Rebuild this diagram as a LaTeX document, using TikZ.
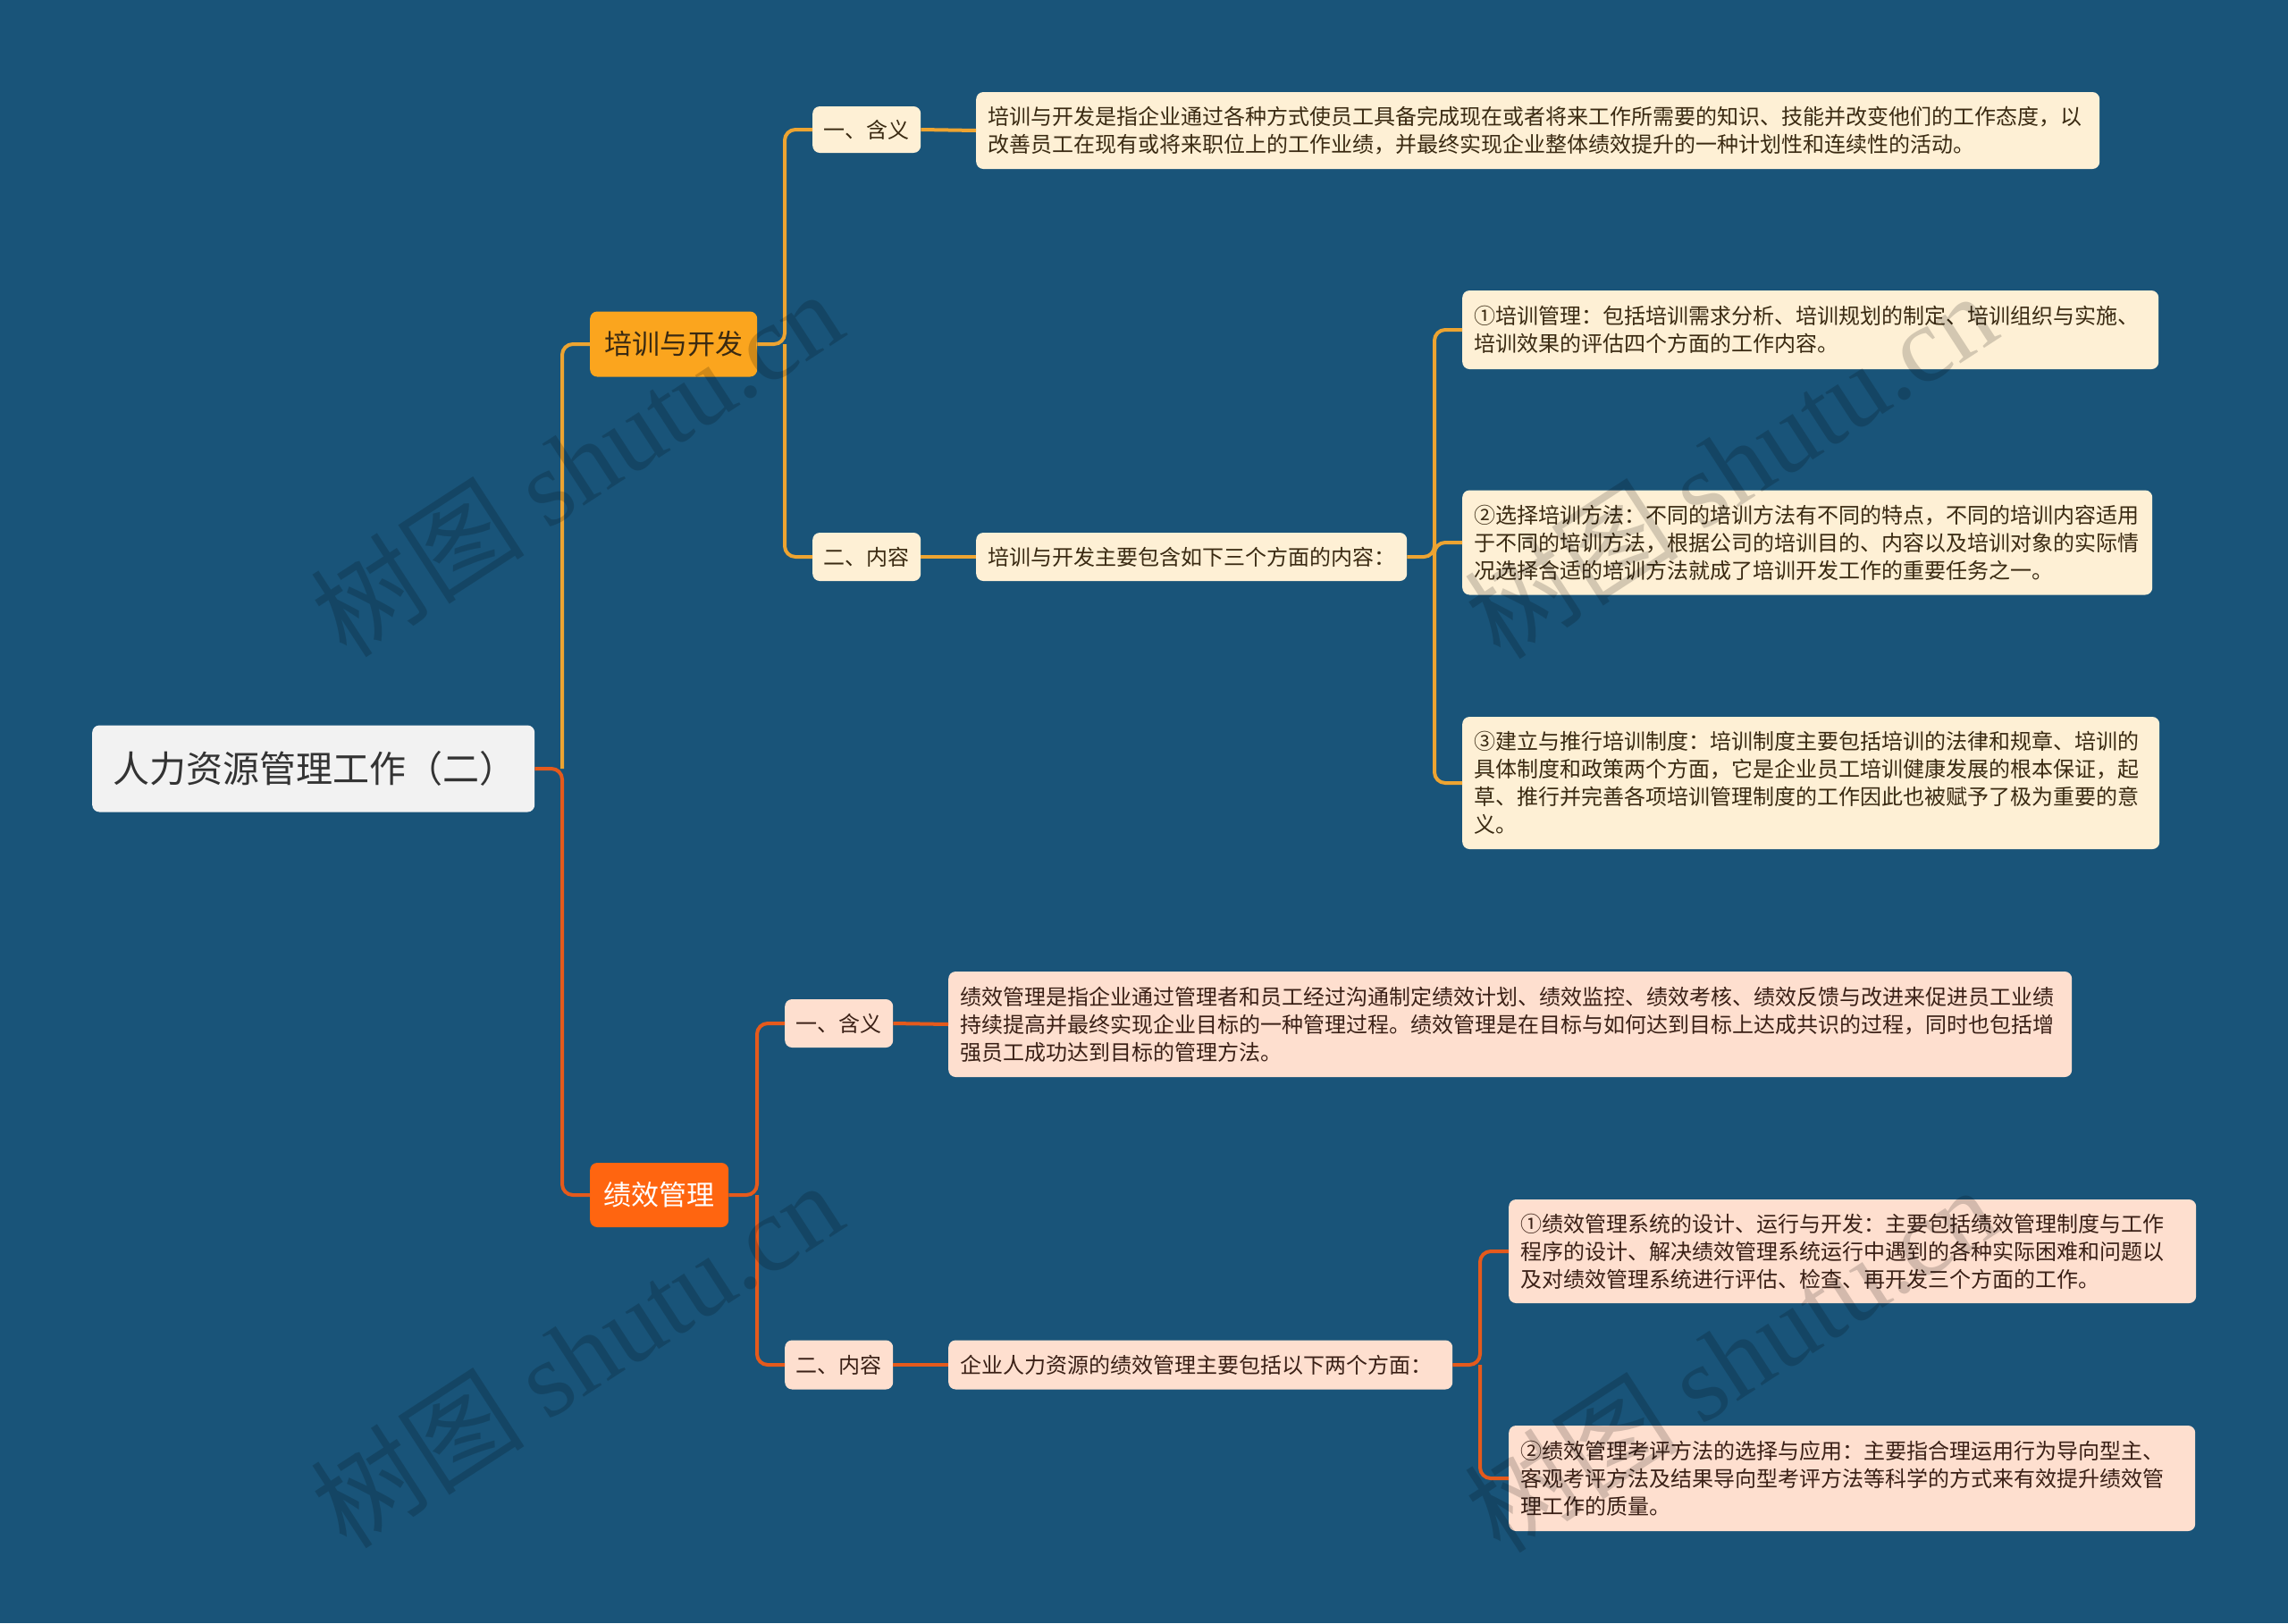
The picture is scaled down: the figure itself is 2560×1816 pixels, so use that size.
\documentclass[tikz,border=0pt]{standalone}
\usepackage{fontspec}
\newfontfamily\cjk{Noto Sans CJK SC}
\newfontfamily\wmserif{Liberation Serif}
\definecolor{bgc}{HTML}{195479}
\definecolor{goldl}{HTML}{EDA431}
\definecolor{redl}{HTML}{E55A1C}
\definecolor{bonef}{HTML}{FBA51E}
\definecolor{btwof}{HTML}{FF6510}
\definecolor{creamf}{HTML}{FEF0D5}
\definecolor{peachf}{HTML}{FEDFCF}
\definecolor{rootf}{HTML}{F2F2F2}
\definecolor{txtd}{HTML}{3A2A12}
\definecolor{txtr}{HTML}{3A2016}
\tikzset{
  box/.style={rounded corners=8pt, anchor=west, inner ysep=0pt, inner xsep=13pt, align=left},
  rootbox/.style={box, fill=rootf, text=black!80, font=\cjk\fontsize{41}{48}\selectfont, text width=473pt, minimum height=97pt, inner xsep=11pt, align=left},
  bonebox/.style={box, fill=bonef, text=txtd, font=\cjk\fontsize{31}{38}\selectfont, minimum height=73pt, inner xsep=0pt, align=center},
  btwobox/.style={box, fill=btwof, text=white, font=\cjk\fontsize{31}{38}\selectfont, minimum height=72pt, inner xsep=0pt, align=center},
  cbox/.style={box, fill=creamf, text=txtd, font=\cjk\fontsize{24}{31}\selectfont},
  pbox/.style={box, fill=peachf, text=txtr, font=\cjk\fontsize{24}{31}\selectfont},
  gl/.style={draw=goldl, line width=4pt, rounded corners=12pt},
  rl/.style={draw=redl, line width=4pt, rounded corners=12pt},
  wm/.style={text=black, opacity=0.17, rotate=33, font=\fontsize{120}{130}\selectfont}
}
\begin{document}
\begin{tikzpicture}[x=1pt,y=-1pt]
\useasboundingbox (0,0) rectangle (2560,1816);
\fill[bgc] (0,0) rectangle (2560,1816);

% spines
\coordinate (sp0) at (629,860);
\coordinate (sp1) at (878,385);
\coordinate (sp2) at (1605,623);
\coordinate (sp3) at (847,1337);
\coordinate (sp4) at (1656,1527);

% nodes
\node[rootbox] (root) at (103,860) {\hspace*{12pt}人力资源管理工作（二）};
\node[bonebox, minimum width=187pt] (b1) at (660,385) {培训与开发};
\node[btwobox, minimum width=155pt] (b2) at (660,1337) {绩效管理};

\node[cbox, minimum width=121pt, minimum height=52pt, inner xsep=0pt, align=center] (k1) at (909,145) {一、含义};
\node[cbox, minimum width=121pt, minimum height=54pt, inner xsep=0pt, align=center] (k2) at (909,623) {二、内容};
\node[cbox, text width=1231pt, minimum height=86pt] (l1) at (1092,146) {培训与开发是指企业通过各种方式使员工具备完成现在或者将来工作所需要的知识、技能并改变他们的工作态度，以\\改善员工在现有或将来职位上的工作业绩，并最终实现企业整体绩效提升的一种计划性和连续性的活动。};
\node[cbox, text width=456pt, minimum height=54pt] (l2) at (1092,623) {培训与开发主要包含如下三个方面的内容：};
\node[cbox, text width=753pt, minimum height=88pt] (d1) at (1636,369) {①培训管理：包括培训需求分析、培训规划的制定、培训组织与实施、\\培训效果的评估四个方面的工作内容。};
\node[cbox, text width=746pt, minimum height=117pt] (d2) at (1636,607) {②选择培训方法：不同的培训方法有不同的特点，不同的培训内容适用\\于不同的培训方法，根据公司的培训目的、内容以及培训对象的实际情\\况选择合适的培训方法就成了培训开发工作的重要任务之一。};
\node[cbox, text width=754pt, minimum height=148pt] (d3) at (1636,876) {③建立与推行培训制度：培训制度主要包括培训的法律和规章、培训的\\具体制度和政策两个方面，它是企业员工培训健康发展的根本保证，起\\草、推行并完善各项培训管理制度的工作因此也被赋予了极为重要的意\\义。};

\node[pbox, minimum width=121pt, minimum height=54pt, inner xsep=0pt, align=center] (m1) at (878,1145) {一、含义};
\node[pbox, minimum width=121pt, minimum height=55pt, inner xsep=0pt, align=center] (m2) at (878,1527) {二、内容};
\node[pbox, text width=1231pt, minimum height=118pt] (n1) at (1061,1146) {绩效管理是指企业通过管理者和员工经过沟通制定绩效计划、绩效监控、绩效考核、绩效反馈与改进来促进员工业绩\\持续提高并最终实现企业目标的一种管理过程。绩效管理是在目标与如何达到目标上达成共识的过程，同时也包括增\\强员工成功达到目标的管理方法。};
\node[pbox, text width=538pt, minimum height=55pt] (n2) at (1061,1527) {企业人力资源的绩效管理主要包括以下两个方面：};
\node[pbox, text width=743pt, minimum height=116pt] (e1) at (1688,1400) {①绩效管理系统的设计、运行与开发：主要包括绩效管理制度与工作\\程序的设计、解决绩效管理系统运行中遇到的各种实际困难和问题以\\及对绩效管理系统进行评估、检查、再开发三个方面的工作。};
\node[pbox, text width=742pt, minimum height=118pt] (e2) at (1688,1654) {②绩效管理考评方法的选择与应用：主要指合理运用行为导向型主、\\客观考评方法及结果导向型考评方法等科学的方式来有效提升绩效管\\理工作的质量。};

% connectors
\draw[gl] (root.east -| sp0) |- (b1.west);
\draw[rl] (root.east) -- (root.east -| sp0) |- (b2.west);

\draw[gl] (b1.east) -- (b1.east -| sp1) |- (k1.west);
\draw[gl] (b1.east -| sp1) |- (k2.west);
\draw[gl] (k1.east) -- (l1.west);
\draw[gl] (k2.east) -- (l2.west);
\draw[gl] (l2.east) -- (l2.east -| sp2) |- (d1.west);
\draw[gl] (l2.east -| sp2) |- (d2.west);
\draw[gl] (l2.east -| sp2) |- (d3.west);

\draw[rl] (b2.east) -- (b2.east -| sp3) |- (m1.west);
\draw[rl] (b2.east -| sp3) |- (m2.west);
\draw[rl] (m1.east) -- (n1.west);
\draw[rl] (m2.east) -- (n2.west);
\draw[rl] (n2.east) -- (n2.east -| sp4) |- (e1.west);
\draw[rl] (n2.east -| sp4) |- (e2.west);

% watermarks
\node[wm] (w1) at (645,518) {\cjk 树图 \wmserif shutu.cn};
\node[wm] (w2) at (1936,520) {\cjk 树图 \wmserif shutu.cn};
\node[wm] (w3) at (645,1515) {\cjk 树图 \wmserif shutu.cn};
\node[wm] (w4) at (1936,1520) {\cjk 树图 \wmserif shutu.cn};
\end{tikzpicture}
\end{document}
